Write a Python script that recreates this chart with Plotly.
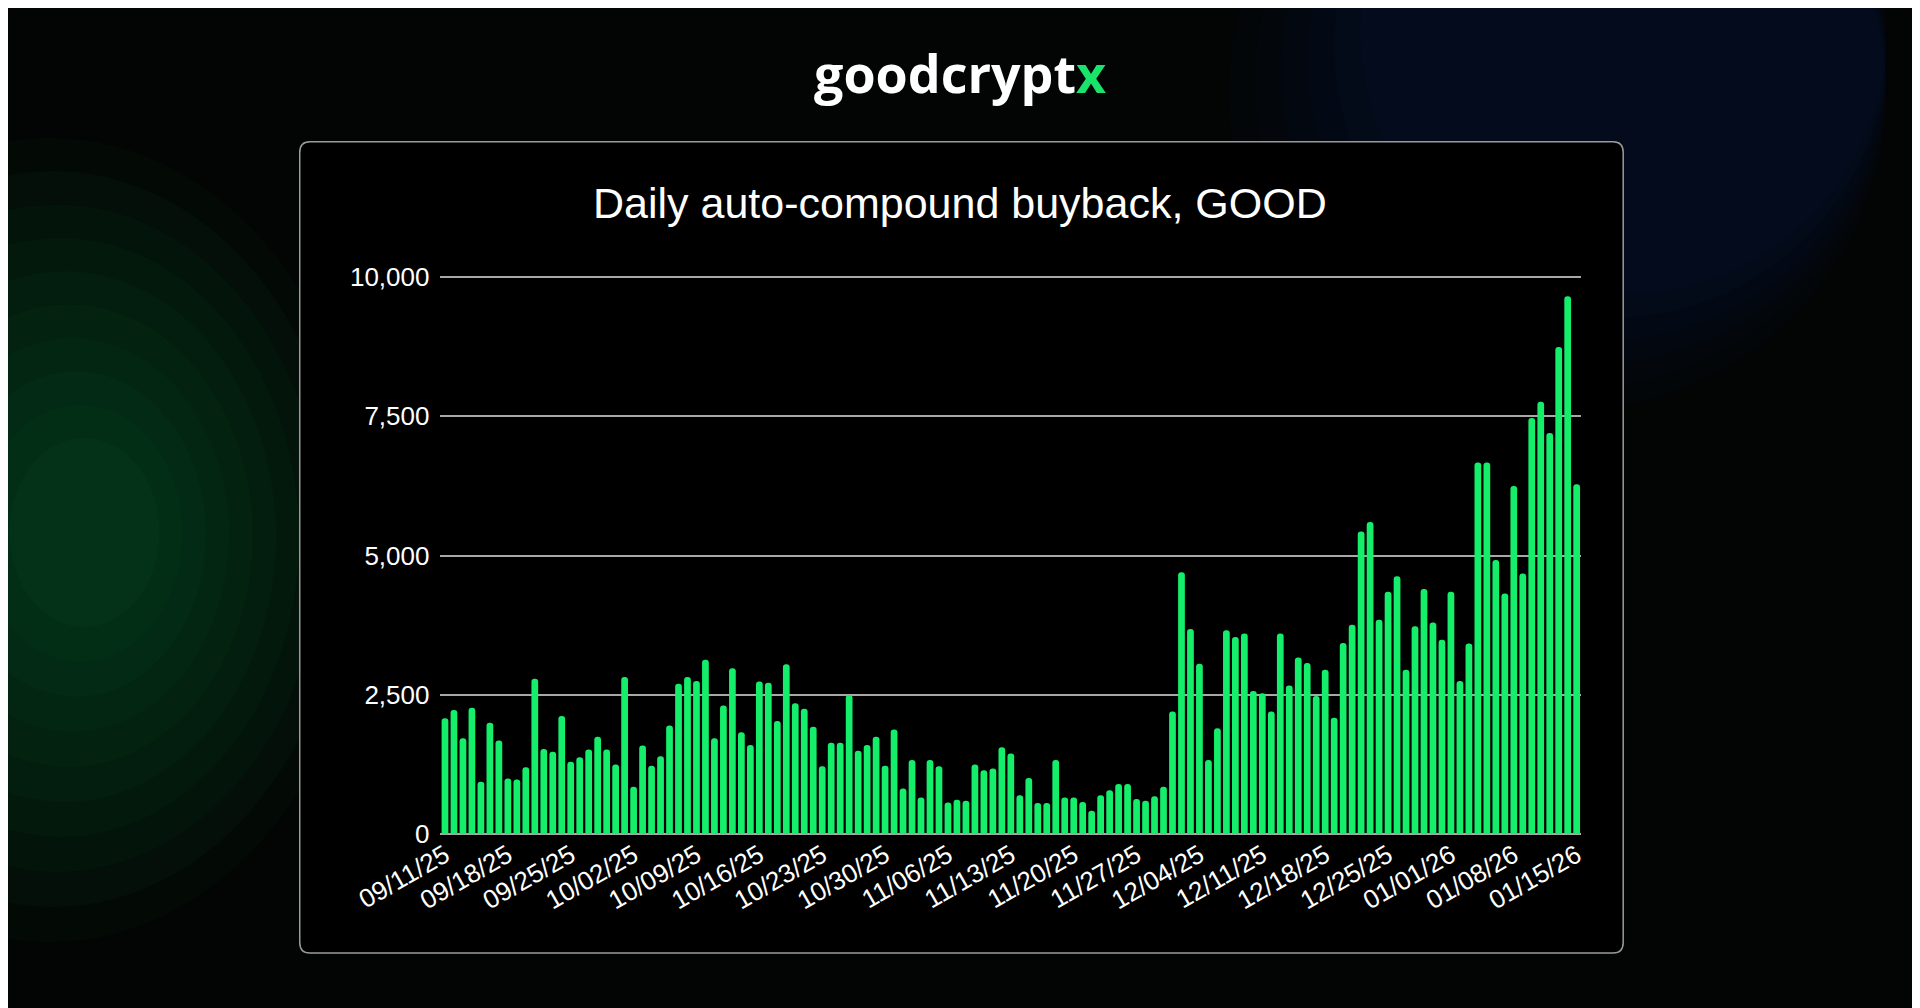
import pandas as pd
import plotly.graph_objects as go

dates = [d.strftime("%m/%d/%y") for d in pd.date_range("2025-09-11", "2026-01-15", freq="D")]
values = [2080, 2230, 1720, 2270, 940, 2000, 1680, 1000, 980, 1200,
          2790, 1530, 1480, 2120, 1300, 1380, 1520, 1750, 1520, 1250,
          2820, 850, 1590, 1230, 1400, 1950, 2700, 2820, 2750, 3130,
          1720, 2310, 2980, 1830, 1600, 2740, 2720, 2030, 3050, 2350,
          2250, 1930, 1220, 1640, 1640, 2500, 1500, 1600, 1750, 1230,
          1880, 820, 1330, 660, 1330, 1220, 570, 620, 600, 1250,
          1150, 1180, 1560, 1450, 700, 1010, 560, 560, 1330, 660,
          660, 580, 420, 700, 790, 900, 900, 630, 600, 680,
          850, 2200, 4700, 3680, 3060, 1330, 1900, 3660, 3540, 3600,
          2570, 2530, 2200, 3600, 2670, 3170, 3070, 2480, 2950, 2090,
          3430, 3760, 5430, 5600, 3850, 4350, 4630, 2950, 3730, 4400,
          3800, 3490, 4350, 2750, 3420, 6670, 6670, 4920, 4320, 6250,
          4680, 7470, 7760, 7200, 8740, 9650, 6280]
tick_labels = dates[::7]
y_ticks = [0, 2500, 5000, 7500, 10000]

fig = go.Figure(go.Bar(x=dates, y=values, marker=dict(color="#14EE6A", line=dict(width=0))))

shapes = []
for i in range(10):
    r = 1 - i * 0.085
    shapes.append(dict(type="circle", xref="paper", yref="paper",
                       x0=-0.2 * r, x1=0.15 * r, y0=0.48 - 0.42 * r, y1=0.48 + 0.4 * r,
                       fillcolor="#23a043", opacity=0.04, line_width=0, layer="below"))
for i in range(6):
    r = 1 - i * 0.12
    shapes.append(dict(type="circle", xref="paper", yref="paper",
                       x0=0.62 + 0.12 * (1 - r), x1=0.98, y0=0.6 + 0.2 * (1 - r), y1=1.25,
                       fillcolor="#1a3a7a", opacity=0.04, line_width=0, layer="below"))
x0, x1, y0, y1 = 0.112, 0.836, 0.049, 0.876
shapes.append(dict(type="path", xref="paper", yref="paper", layer="below",
                   path=f"M {x0+0.0055} {y1} L {x1-0.0055} {y1} Q {x1} {y1} {x1} {y1-0.011} L {x1} {y0+0.011} "
                        f"Q {x1} {y0} {x1-0.0055} {y0} L {x0+0.0055} {y0} Q {x0} {y0} {x0} {y0+0.011} "
                        f"L {x0} {y1-0.011} Q {x0} {y1} {x0+0.0055} {y1} Z",
                   fillcolor="#000000", line=dict(color="#9a9a9a", width=1.5)))

fig.update_layout(
    width=1920, height=1008, margin=dict(l=0, r=0, t=0, b=0),
    paper_bgcolor="#030504", plot_bgcolor="rgba(0,0,0,0)",
    shapes=shapes, bargap=0.25, barcornerradius=3, showlegend=False,
    font=dict(family="Liberation Sans, Arial", color="white"),
    xaxis=dict(domain=[0.189, 0.813], tickmode="array", tickvals=tick_labels, ticktext=tick_labels,
               tickangle=-30, tickfont=dict(size=26), showgrid=False, showline=False, ticks=""),
    yaxis=dict(domain=[0.170, 0.741], range=[0, 10050], tickvals=y_ticks, tickformat=",",
               tickfont=dict(size=26), gridcolor="#a8a8a8", gridwidth=2, zeroline=True,
               zerolinecolor="#a8a8a8", zerolinewidth=2, ticks="", ticklabelstandoff=10),
    annotations=[
        dict(text="Daily auto-compound buyback, GOOD", x=0.473, y=0.840, xref="paper", yref="paper",
             showarrow=False, font=dict(size=43, color="white")),
        dict(text="<b>goodcrypt<span style='color:#19e36a'>x</span></b>", x=0.473, y=0.985, xref="paper", yref="paper",
             showarrow=False, font=dict(size=52, color="white", family="Open Sans")),
    ],
)
fig.write_html("out.html")
